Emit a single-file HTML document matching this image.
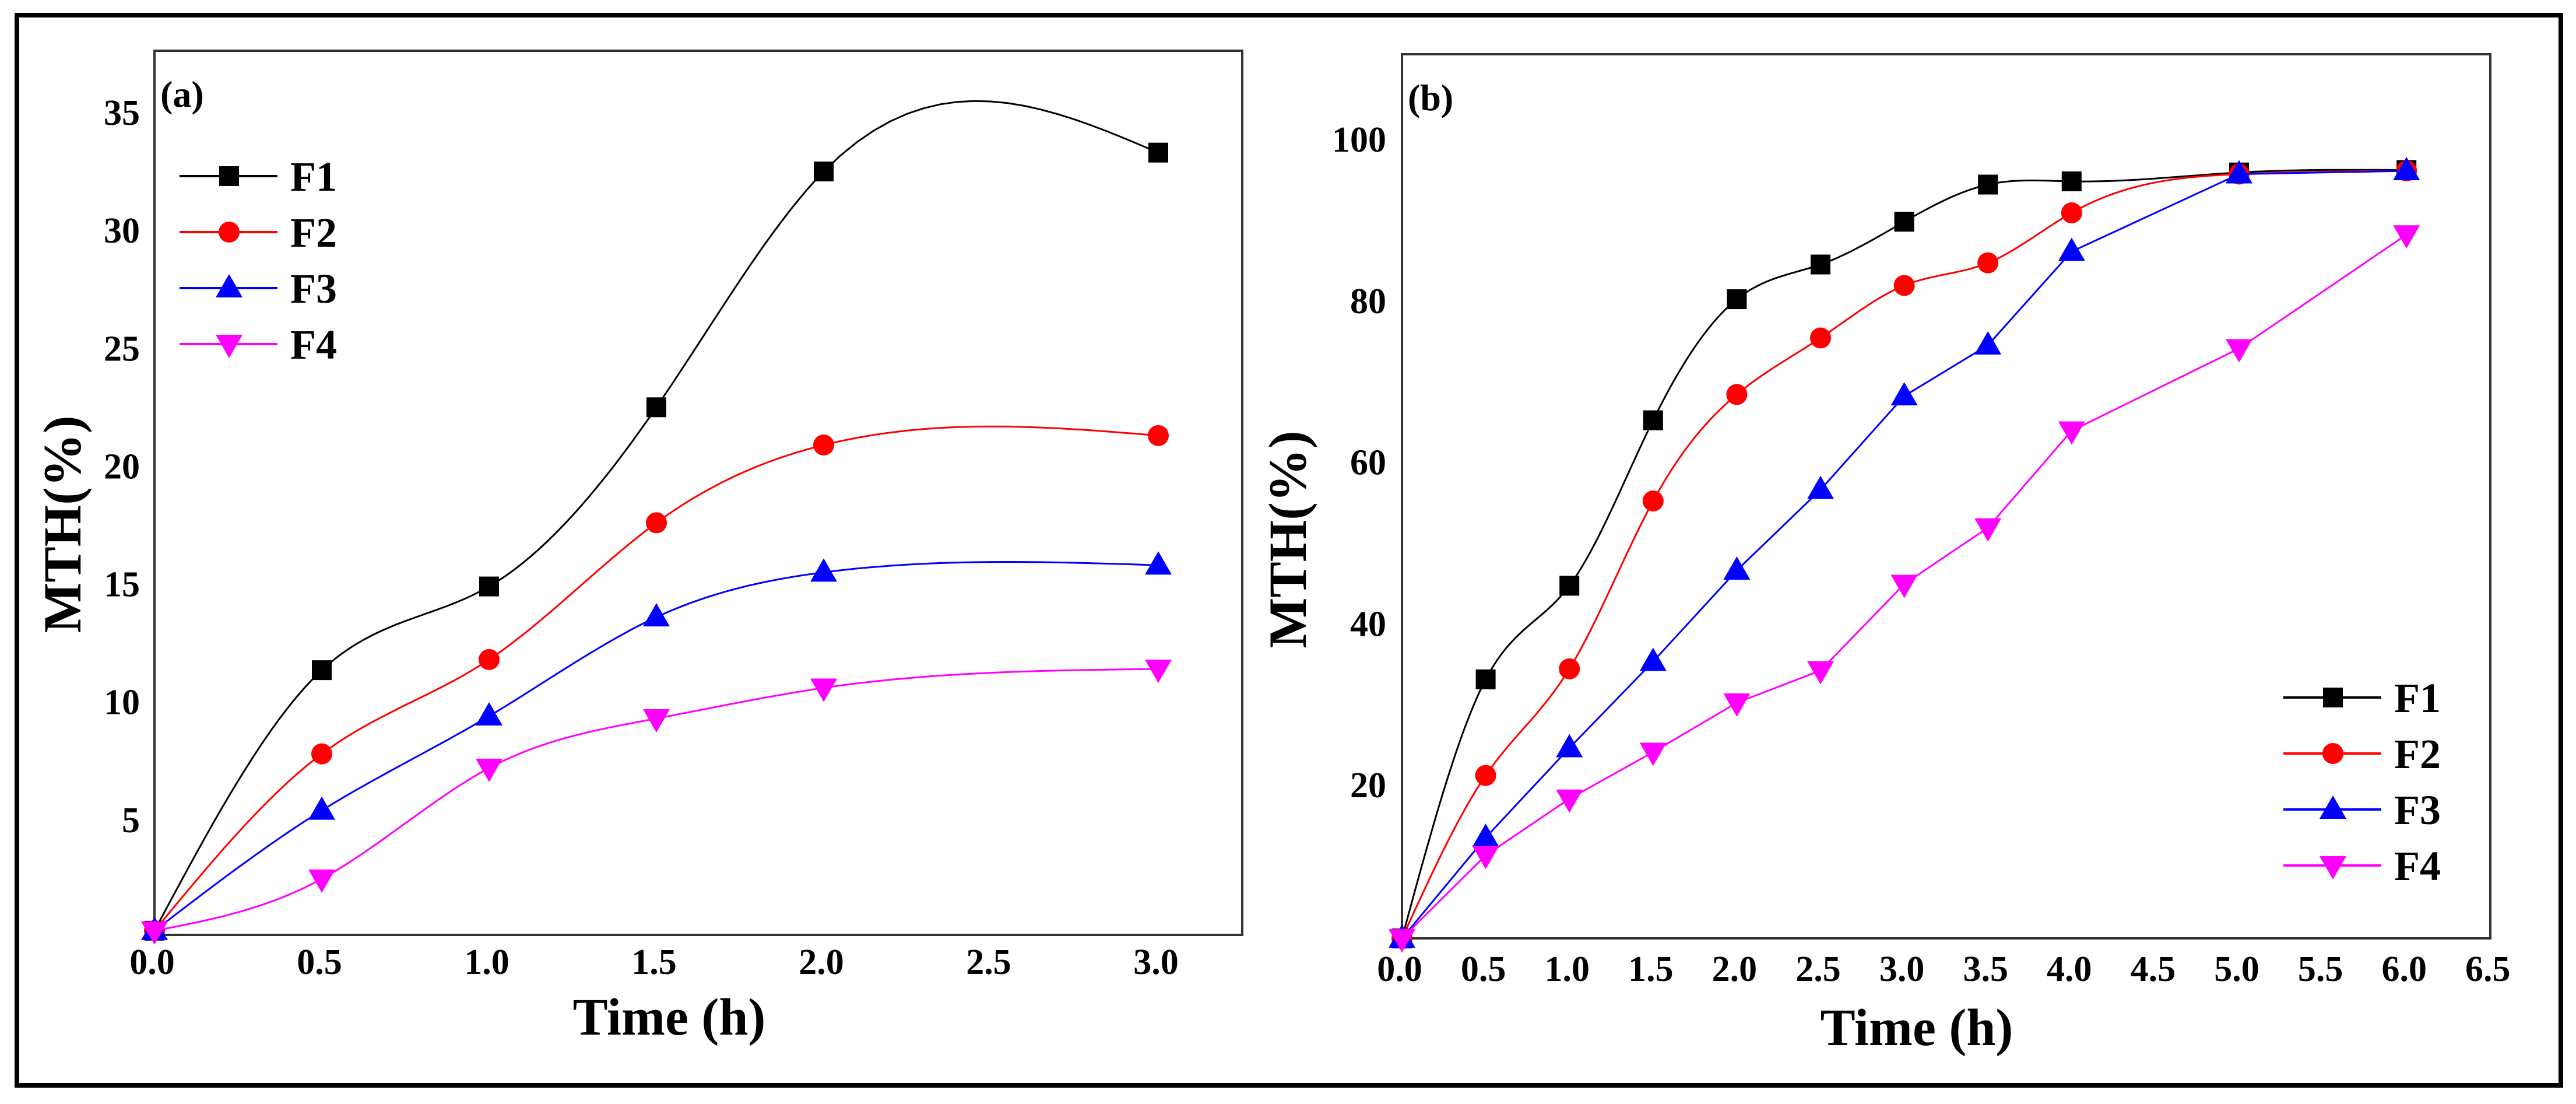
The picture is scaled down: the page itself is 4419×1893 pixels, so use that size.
<!DOCTYPE html>
<html><head><meta charset="utf-8">
<style>
html,body{margin:0;padding:0;background:#fff;}
svg{display:block;}
text{font-family:"Liberation Serif",serif;font-weight:bold;fill:#000;}
</style></head>
<body>
<svg id="fig" width="4419" height="1893" viewBox="0 0 4419 1893" xmlns="http://www.w3.org/2000/svg">
<rect x="29" y="26" width="4364" height="1835" fill="none" stroke="#000" stroke-width="8"/>
<g id="pa"></g>
<g id="pb"></g>
</svg>
<script>
// Panel (a) data
const timesA = [0, 0.5, 1.0, 1.5, 2.0, 3.0];
const a_F1 = [0.3, 11.35, 14.9, 22.5, 32.5, 33.3];
const a_F2 = [0.3, 7.8, 11.8, 17.6, 20.9, 21.3];
const a_F3 = [0.3, 5.4, 9.4, 13.6, 15.5, 15.8];
const a_F4 = [0.3, 2.5, 7.2, 9.3, 10.6, 11.4];
const xTicksA = ["0.0","0.5","1.0","1.5","2.0","2.5","3.0"];
const yTicksA = [5,10,15,20,25,30,35];
// Panel (b) data
const timesB = [0, 0.5, 1.0, 1.5, 2.0, 2.5, 3.0, 3.5, 4.0, 5.0, 6.0];
const b_F1 = [1, 33.1, 44.7, 65.2, 80.2, 84.5, 89.8, 94.4, 94.8, 95.9, 96.2];
const b_F2 = [1, 21.2, 34.4, 55.2, 68.4, 75.4, 81.9, 84.7, 90.9, 95.7, 96.1];
const b_F3 = [1, 13.5, 24.6, 35.3, 46.6, 56.6, 68.2, 74.5, 86.1, 95.7, 96.1];
const b_F4 = [1, 11.3, 18.3, 24.1, 30.2, 34.2, 44.9, 51.9, 63.9, 74.1, 88.2];
const xTicksB = ["0.0","0.5","1.0","1.5","2.0","2.5","3.0","3.5","4.0","4.5","5.0","5.5","6.0","6.5"];
const yTicksB = [20,40,60,80,100];
const seriesNames = ["F1","F2","F3","F4"];

const NS="http://www.w3.org/2000/svg";
function mk(parent, tag, attrs){const e=document.createElementNS(NS,tag);for(const k in attrs)e.setAttribute(k,attrs[k]);parent.appendChild(e);return e;}
const colors=["#000000","#ff0000","#0000ff","#ff00ff"];

function splinePath(pts){
  const n=pts.length; if(n<3){return "M"+pts.map(p=>p[0]+","+p[1]).join("L");}
  const xs=pts.map(p=>p[0]), ys=pts.map(p=>p[1]);
  const h=[],al=[],l=[1],mu=[0],z=[0];
  for(let i=0;i<n-1;i++)h.push(xs[i+1]-xs[i]);
  for(let i=1;i<n-1;i++)al[i]=3/h[i]*(ys[i+1]-ys[i])-3/h[i-1]*(ys[i]-ys[i-1]);
  for(let i=1;i<n-1;i++){l[i]=2*(xs[i+1]-xs[i-1])-h[i-1]*mu[i-1];mu[i]=h[i]/l[i];z[i]=(al[i]-h[i-1]*z[i-1])/l[i];}
  const c=new Array(n).fill(0),b=[],d=[];
  for(let j=n-2;j>=0;j--){c[j]=z[j]-mu[j]*c[j+1];b[j]=(ys[j+1]-ys[j])/h[j]-h[j]*(c[j+1]+2*c[j])/3;d[j]=(c[j+1]-c[j])/(3*h[j]);}
  let s="M"+xs[0]+","+ys[0];
  for(let j=0;j<n-1;j++){for(let k=1;k<=20;k++){const dx=h[j]*k/20;s+=" L"+(xs[j]+dx).toFixed(1)+","+(ys[j]+b[j]*dx+c[j]*dx*dx+d[j]*dx*dx*dx).toFixed(1);}}
  return s;
}
function marker(g,type,x,y,col){
  let e;
  if(type===0)e=mk(g,"rect",{x:x-17,y:y-17,width:34,height:34,fill:col});
  else if(type===1)e=mk(g,"circle",{cx:x,cy:y,r:18,fill:col});
  else if(type===2)e=mk(g,"polygon",{points:`${x},${y-24} ${x+23},${y+16} ${x-23},${y+16}`,fill:col});
  else e=mk(g,"polygon",{points:`${x},${y+24} ${x+23},${y-16} ${x-23},${y-16}`,fill:col});
  return e;
}

function panel(g,cfg){
  const {L,R,T,B,xs,ys,times,data,xTicks,yTicks,smooth,label,legX,legY,yTitleX,yTitleY,xTitleX,xTitleY,ylabRight,xlabY}=cfg;
  const box=mk(g,"rect",{x:L,y:T,width:R-L,height:B-T,fill:"none",stroke:"#333",'stroke-width':4});
  
  
  xTicks.forEach(t=>{const e=mk(g,"text",{x:xs(parseFloat(t))-4,y:xlabY,'font-size':62,'text-anchor':'middle'});e.textContent=t;
    
    });
  yTicks.forEach(v=>{const e=mk(g,"text",{x:ylabRight,y:ys(v)+21,'font-size':62,'text-anchor':'end'});e.textContent=v;
    
    });
  const yt=mk(g,"text",{x:yTitleX,y:yTitleY,'font-size':92,'text-anchor':'middle',transform:`rotate(-90 ${yTitleX} ${yTitleY})`});yt.textContent="MTH(%)";
  
  
  const xt=mk(g,"text",{x:xTitleX,y:xTitleY,'font-size':90,'text-anchor':'middle'});xt.textContent="Time (h)";
  
  
  const pl=mk(g,"text",{x:L+10,y:T+96,'font-size':64});pl.textContent=label;
  
  
  data.forEach((vals,si)=>{
    const sg=mk(g,"g",{});
    
    
    const pts=times.map((t,i)=>[xs(t),ys(vals[i])]);
    const d=smooth[si]?splinePath(pts):"M"+pts.map(p=>p[0].toFixed(1)+","+p[1].toFixed(1)).join(" L");
    const p=mk(sg,"path",{d:d,fill:"none",stroke:colors[si],'stroke-width':3});
    
    
    pts.forEach(pt=>{const m=marker(sg,si,pt[0],pt[1],colors[si]);
      
      });
    const lg=mk(g,"g",{});
    
    
    const ly=legY+si*96;
    mk(lg,"line",{x1:legX,y1:ly,x2:legX+168,y2:ly,stroke:colors[si],'stroke-width':4});
    marker(lg,si,legX+85,ly,colors[si]);
    const lt=mk(lg,"text",{x:legX+190,y:ly+25,'font-size':72});lt.textContent=seriesNames[si];
  });
}

const La=265,Ra=2131,Ta=87,Ba=1603;
panel(document.getElementById('pa'),{L:La,R:Ra,T:Ta,B:Ba,
  xs:t=>La+574*t, ys:v=>1608-40.43*v,
  times:timesA,data:[a_F1,a_F2,a_F3,a_F4],xTicks:xTicksA,yTicks:yTicksA,
  smooth:[true,true,true,true],label:"(a)",legX:308,legY:302,
  yTitleX:138,yTitleY:899,xTitleX:1148,xTitleY:1774,ylabRight:240,xlabY:1670});

const Lb=2405,Rb=4272,Tb=93,Bb=1609;
panel(document.getElementById('pb'),{L:Lb,R:Rb,T:Tb,B:Bb,
  xs:t=>Lb+287.2*t, ys:v=>1623-13.84*v,
  times:timesB,data:[b_F1,b_F2,b_F3,b_F4],xTicks:xTicksB,yTicks:yTicksB,
  smooth:[true,true,false,false],label:"(b)",legX:3917,legY:1196,
  yTitleX:2240,yTitleY:925,xTitleX:3288,xTitleY:1792,ylabRight:2378,xlabY:1682});
</script>
</body></html>
